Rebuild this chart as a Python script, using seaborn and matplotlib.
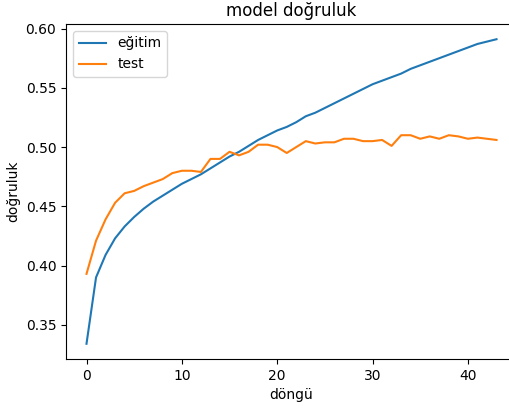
import matplotlib
matplotlib.use("Agg")
import matplotlib.pyplot as plt
import seaborn as sns
import pandas as pd

epochs = list(range(44))
egitim = [0.334, 0.390, 0.409, 0.423, 0.433, 0.441, 0.448, 0.454, 0.459, 0.464,
          0.469, 0.473, 0.477, 0.482, 0.487, 0.492, 0.496, 0.501, 0.506, 0.510,
          0.514, 0.517, 0.521, 0.526, 0.529, 0.533, 0.537, 0.541, 0.545, 0.549,
          0.553, 0.556, 0.559, 0.562, 0.566, 0.569, 0.572, 0.575, 0.578, 0.581,
          0.584, 0.587, 0.589, 0.591]
test = [0.393, 0.421, 0.439, 0.453, 0.461, 0.463, 0.467, 0.470, 0.473, 0.478,
        0.480, 0.480, 0.479, 0.490, 0.490, 0.496, 0.493, 0.496, 0.502, 0.502,
        0.500, 0.495, 0.500, 0.505, 0.503, 0.504, 0.504, 0.507, 0.507, 0.505,
        0.505, 0.506, 0.501, 0.510, 0.510, 0.507, 0.509, 0.507, 0.510, 0.509,
        0.507, 0.508, 0.507, 0.506]

df = pd.DataFrame({"döngü": epochs * 2,
                   "doğruluk": egitim + test,
                   "seri": ["eğitim"] * len(epochs) + ["test"] * len(epochs)})

plt.rcParams["font.family"] = ["DejaVu Sans"]
fig = plt.figure(figsize=(5.1, 4.09), dpi=100)
ax = fig.add_axes([66/510, 1 - 359/409, (517 - 66)/510, (359 - 24)/409])
sns.lineplot(data=df, x="döngü", y="doğruluk", hue="seri",
             palette=["#1f77b4", "#ff7f0e"], ax=ax, linewidth=1.5)
ax.set_title("model doğruluk")
ax.set_xlabel("döngü")
ax.set_ylabel("doğruluk")
ax.set_xticks([0, 10, 20, 30, 40])
ax.set_yticks([0.35, 0.40, 0.45, 0.50, 0.55, 0.60])
ax.spines["right"].set_visible(False)
ax.legend(loc="upper left", title=None)
fig.savefig("out.png", dpi=100)
